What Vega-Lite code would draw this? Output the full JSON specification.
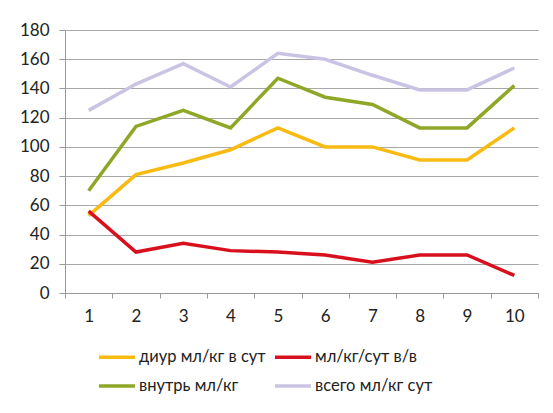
{
  "$schema": "https://vega.github.io/schema/vega-lite/v6.json",
  "width": 473,
  "height": 263,
  "autosize": {"type": "none"},
  "padding": {"left": 65, "top": 30, "right": 15, "bottom": 120},
  "background": "#ffffff",
  "config": {
    "font": "Lato",
    "view": {"stroke": null}
  },
  "data": {
    "values": [
      {"day": 1, "series": "диур мл/кг в сут", "value": 53},
      {"day": 2, "series": "диур мл/кг в сут", "value": 81},
      {"day": 3, "series": "диур мл/кг в сут", "value": 89},
      {"day": 4, "series": "диур мл/кг в сут", "value": 98},
      {"day": 5, "series": "диур мл/кг в сут", "value": 113},
      {"day": 6, "series": "диур мл/кг в сут", "value": 100},
      {"day": 7, "series": "диур мл/кг в сут", "value": 100},
      {"day": 8, "series": "диур мл/кг в сут", "value": 91},
      {"day": 9, "series": "диур мл/кг в сут", "value": 91},
      {"day": 10, "series": "диур мл/кг в сут", "value": 113},
      {"day": 1, "series": "мл/кг/сут в/в", "value": 56},
      {"day": 2, "series": "мл/кг/сут в/в", "value": 28},
      {"day": 3, "series": "мл/кг/сут в/в", "value": 34},
      {"day": 4, "series": "мл/кг/сут в/в", "value": 29},
      {"day": 5, "series": "мл/кг/сут в/в", "value": 28},
      {"day": 6, "series": "мл/кг/сут в/в", "value": 26},
      {"day": 7, "series": "мл/кг/сут в/в", "value": 21},
      {"day": 8, "series": "мл/кг/сут в/в", "value": 26},
      {"day": 9, "series": "мл/кг/сут в/в", "value": 26},
      {"day": 10, "series": "мл/кг/сут в/в", "value": 12},
      {"day": 1, "series": "внутрь мл/кг", "value": 70},
      {"day": 2, "series": "внутрь мл/кг", "value": 114},
      {"day": 3, "series": "внутрь мл/кг", "value": 125},
      {"day": 4, "series": "внутрь мл/кг", "value": 113},
      {"day": 5, "series": "внутрь мл/кг", "value": 147},
      {"day": 6, "series": "внутрь мл/кг", "value": 134},
      {"day": 7, "series": "внутрь мл/кг", "value": 129},
      {"day": 8, "series": "внутрь мл/кг", "value": 113},
      {"day": 9, "series": "внутрь мл/кг", "value": 113},
      {"day": 10, "series": "внутрь мл/кг", "value": 142},
      {"day": 1, "series": "всего мл/кг сут", "value": 125},
      {"day": 2, "series": "всего мл/кг сут", "value": 143},
      {"day": 3, "series": "всего мл/кг сут", "value": 157},
      {"day": 4, "series": "всего мл/кг сут", "value": 141},
      {"day": 5, "series": "всего мл/кг сут", "value": 164},
      {"day": 6, "series": "всего мл/кг сут", "value": 160},
      {"day": 7, "series": "всего мл/кг сут", "value": 149},
      {"day": 8, "series": "всего мл/кг сут", "value": 139},
      {"day": 9, "series": "всего мл/кг сут", "value": 139},
      {"day": 10, "series": "всего мл/кг сут", "value": 154}
    ]
  },
  "mark": {"type": "line", "strokeWidth": 3.5},
  "encoding": {
    "x": {
      "field": "day",
      "type": "ordinal",
      "bandPosition": 0.5,
      "scale": {"type": "band", "paddingInner": 0, "paddingOuter": 0},
      "axis": {
        "title": null,
        "labelAngle": 0,
        "tickBand": "extent",
        "domainColor": "#999999",
        "tickColor": "#999999",
        "tickSize": 5,
        "labelPadding": 10,
        "labelFontSize": 17,
        "labelColor": "#222222",
        "grid": false
      }
    },
    "y": {
      "field": "value",
      "type": "quantitative",
      "scale": {"domain": [0, 180], "nice": false},
      "axis": {
        "title": null,
        "values": [0, 20, 40, 60, 80, 100, 120, 140, 160, 180],
        "gridColor": "#a8a8a8",
        "gridWidth": 1.2,
        "domain": true,
        "domainColor": "#999999",
        "tickColor": "#999999",
        "tickSize": 6,
        "labelPadding": 10,
        "labelFontSize": 17,
        "labelColor": "#222222"
      }
    },
    "color": {
      "field": "series",
      "type": "nominal",
      "scale": {
        "domain": ["диур мл/кг в сут", "внутрь мл/кг", "мл/кг/сут в/в", "всего мл/кг сут"],
        "range": ["#f9bb12", "#8ea726", "#d8101e", "#cbc3e3"]
      },
      "legend": {
        "title": null,
        "orient": "none",
        "legendX": 32,
        "legendY": 307,
        "columns": 2,
        "columnPadding": 1,
        "rowPadding": -9,
        "symbolType": "stroke",
        "symbolStrokeWidth": 3.5,
        "symbolSize": 1300,
        "labelFontSize": 16.5,
        "labelColor": "#222222",
        "labelOffset": 2
      }
    }
  }
}
